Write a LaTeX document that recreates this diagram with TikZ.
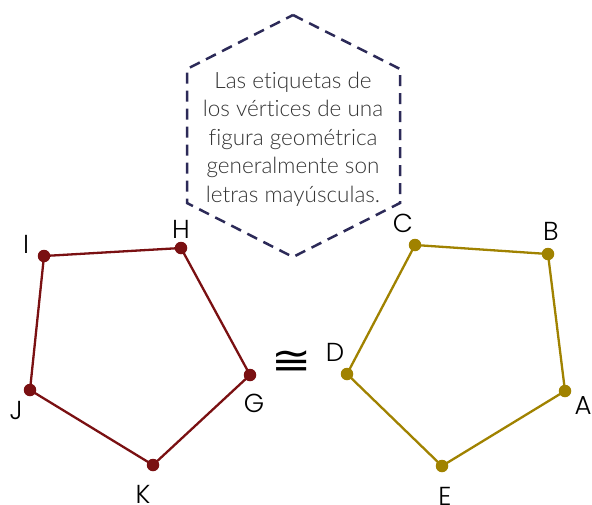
\documentclass[tikz,border=0pt]{standalone}
\usepackage{fontspec}
\setmainfont{Lato}[UprightFont=* Light,Ligatures=NoCommon]
\newfontfamily\labfont{Poppins}[UprightFont=* Light]
\newfontfamily\symfont{DejaVu Sans}
\definecolor{redp}{HTML}{7A1012}
\definecolor{goldp}{HTML}{A08200}
\definecolor{navy}{HTML}{2C2A58}
\begin{document}
\begin{tikzpicture}[x=1pt,y=-1pt,
  redline/.style={draw=redp,line width=2.3pt,line join=round},
  goldline/.style={draw=goldp,line width=2.3pt,line join=round},
  rdot/.style={circle,fill=redp,inner sep=0pt,minimum size=12.5pt},
  gdot/.style={circle,fill=goldp,inner sep=0pt,minimum size=12.5pt},
  lab/.style={font=\labfont\fontsize{26}{26}\selectfont,text=black,inner sep=0pt},
  hexa/.style={draw=navy,line width=2.5pt,dash pattern=on 11pt off 7pt}]
\useasboundingbox (0,0) rectangle (592,504);
% hexagon
\coordinate (h1) at (293,15);
\coordinate (h2) at (400,69);
\coordinate (h3) at (400,203);
\coordinate (h4) at (293,257);
\coordinate (h5) at (187,203);
\coordinate (h6) at (187,69);
\draw[hexa] (h1) -- (h2) -- (h3) -- (h4) -- (h5) -- (h6) -- cycle;
\node[align=center,text=black!80,font=\fontsize{22.5}{28.5}\selectfont,inner sep=0pt] (txt) at (293,139)
  {Las etiquetas de\\los vértices de una\\figura geométrica\\generalmente son\\letras mayúsculas.};
% left pentagon
\node[rdot] (I) at (44,256) {};
\node[rdot] (H) at (181,248) {};
\node[rdot] (G) at (250,375) {};
\node[rdot] (K) at (153,465) {};
\node[rdot] (J) at (30,390) {};
\draw[redline] (I.center) -- (H.center) -- (G.center) -- (K.center) -- (J.center) -- cycle;
\node[lab] (lI) at (26,244) {I};
\node[lab] (lH) at (181,229) {H};
\node[lab] (lG) at (254,403) {G};
\node[lab] (lK) at (143,494) {K};
\node[lab] (lJ) at (16,410) {J};
% right pentagon
\node[gdot] (C) at (415,245) {};
\node[gdot] (B) at (548,254) {};
\node[gdot] (A) at (565,391) {};
\node[gdot] (E) at (442,466) {};
\node[gdot] (D) at (347,374) {};
\draw[goldline] (C.center) -- (B.center) -- (A.center) -- (E.center) -- (D.center) -- cycle;
\node[lab] (lC) at (403,223) {C};
\node[lab] (lB) at (551,231) {B};
\node[lab] (lA) at (583,406) {A};
\node[lab] (lE) at (445,496) {E};
\node[lab] (lD) at (335,352) {D};
% congruent
\node[inner sep=0pt,font=\symfont\fontsize{40}{40}\selectfont] (cong) at (292,363) {\scalebox{1.2}[1]{≅}};
\end{tikzpicture}
\end{document}
